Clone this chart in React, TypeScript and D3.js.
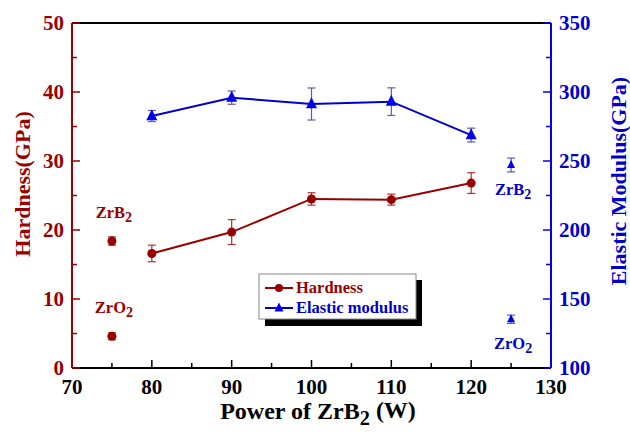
import React from "react";
import * as d3 from "d3";

// Sputtering power of ZrB2 target (W)
const power = [80, 90, 100, 110, 120];
// Film hardness (GPa) with standard deviation
const hardness = [16.6, 19.7, 24.5, 24.4, 26.8];
const hardnessErr = [1.2, 1.8, 0.9, 0.8, 1.5];
// Elastic modulus (GPa) with standard deviation
const modulus = [282.6, 295.9, 291.3, 293.0, 268.8];
const modulusErr = [4.0, 4.8, 11.6, 10.0, 5.0];

// Reference single-phase films
const refHardness = [
  { name: "ZrB2", x: 75, v: 18.4, e: 0.6 },
  { name: "ZrO2", x: 75, v: 4.6, e: 0.5 },
];
const refModulus = [
  { name: "ZrB2", x: 125, v: 247.1, e: 5 },
  { name: "ZrO2", x: 125, v: 135.3, e: 3 },
];

const xTicks = [70, 80, 90, 100, 110, 120, 130];
const hTicks = [0, 10, 20, 30, 40, 50];
const mTicks = [100, 150, 200, 250, 300, 350];

const RED = "#990000";
const BLUE = "#0000CC";
const AXIS_BLUE = "#0000EE";
const FONT = "Liberation Serif";

const W = 630;
const H = 435;
const L = 72;
const R = 551;
const T = 23;
const B = 368;

export default function App() {
  const x = d3.scaleLinear().domain([70, 130]).range([L, R]);
  const yH = d3.scaleLinear().domain([0, 50]).range([B, T]);
  const yM = d3.scaleLinear().domain([100, 350]).range([B, T]);

  const hLine = d3
    .line<number>()
    .x((_, i) => x(power[i]))
    .y((d) => yH(d));
  const mLine = d3
    .line<number>()
    .x((_, i) => x(power[i]))
    .y((d) => yM(d));

  const tri = (cx: number, cy: number, s: number) =>
    `M${cx},${cy - s * 0.62} L${cx + s / 2},${cy + s * 0.38} L${cx - s / 2},${cy + s * 0.38} Z`;

  const errBar = (cx: number, y1: number, y2: number, color: string, key: string) => (
    <g key={key} stroke={color} strokeWidth={1.2} opacity={0.8}>
      <line x1={cx} x2={cx} y1={y1} y2={y2} />
      <line x1={cx - 4} x2={cx + 4} y1={y1} y2={y1} />
      <line x1={cx - 4} x2={cx + 4} y1={y2} y2={y2} />
    </g>
  );

  const xMinor = d3.range(75, 130, 10);
  const hMinor = d3.range(5, 50, 10);
  const mMinor = d3.range(125, 350, 50);

  const sub = (base: string, digit: string) => (
    <>
      {base}
      <tspan dy="0.3em" fontSize="0.85em">
        {digit}
      </tspan>
    </>
  );

  return (
    <svg
      width={W}
      height={H}
      style={{ position: "absolute", left: 0, top: 0, background: "#fff", fontFamily: FONT, fontWeight: "bold" }}
    >
      {/* top frame */}
      <line x1={L} x2={R} y1={T} y2={T} stroke="#000" strokeWidth={2} />

      {/* bottom axis */}
      <line x1={L} x2={R} y1={B} y2={B} stroke="#000" strokeWidth={2} />
      {xTicks.map((t) => (
        <g key={`xt${t}`}>
          <line x1={x(t)} x2={x(t)} y1={B} y2={B - 8} stroke="#000" strokeWidth={1.5} />
          <text x={x(t)} y={394} textAnchor="middle" fontSize={21} fill="#000">
            {t}
          </text>
        </g>
      ))}
      {xMinor.map((t) => (
        <line key={`xm${t}`} x1={x(t)} x2={x(t)} y1={B} y2={B - 5} stroke="#000" strokeWidth={1.5} />
      ))}
      <text x={318} y={419} textAnchor="middle" fontSize={24} fill="#000">
        Power of {sub("ZrB", "2")}
        <tspan dy="-0.3em"> (W)</tspan>
      </text>

      {/* left axis: hardness */}
      <line x1={L} x2={L} y1={T} y2={B} stroke={RED} strokeWidth={2} />
      {hTicks.map((t) => (
        <g key={`ht${t}`}>
          <line x1={L} x2={L + 8} y1={yH(t)} y2={yH(t)} stroke={RED} strokeWidth={1.5} />
          <text x={64} y={yH(t)} dy="0.35em" textAnchor="end" fontSize={21} fill={RED}>
            {t}
          </text>
        </g>
      ))}
      {hMinor.map((t) => (
        <line key={`hm${t}`} x1={L} x2={L + 5} y1={yH(t)} y2={yH(t)} stroke={RED} strokeWidth={1.5} />
      ))}
      <text transform="translate(30,184) rotate(-90)" textAnchor="middle" fontSize={22} fill={RED}>
        Hardness(GPa)
      </text>

      {/* right axis: elastic modulus */}
      <line x1={R} x2={R} y1={T} y2={B} stroke={AXIS_BLUE} strokeWidth={2} />
      {mTicks.map((t) => (
        <g key={`mt${t}`}>
          <line x1={R} x2={R - 8} y1={yM(t)} y2={yM(t)} stroke={AXIS_BLUE} strokeWidth={1.5} />
          <text x={559} y={yM(t)} dy="0.35em" textAnchor="start" fontSize={21} fill={BLUE}>
            {t}
          </text>
        </g>
      ))}
      {mMinor.map((t) => (
        <line key={`mm${t}`} x1={R} x2={R - 5} y1={yM(t)} y2={yM(t)} stroke={AXIS_BLUE} strokeWidth={1.5} />
      ))}
      <text transform="translate(626,181) rotate(-90)" textAnchor="middle" fontSize={22} fill={BLUE}>
        Elastic Modulus(GPa)
      </text>

      {/* hardness series */}
      {power.map((p, i) =>
        errBar(x(p), yH(hardness[i] + hardnessErr[i]), yH(hardness[i] - hardnessErr[i]), RED, `he${i}`)
      )}
      <path d={hLine(hardness) ?? ""} fill="none" stroke={RED} strokeWidth={2} />
      {power.map((p, i) => (
        <circle key={`hc${i}`} cx={x(p)} cy={yH(hardness[i])} r={4.5} fill={RED} />
      ))}

      {/* modulus series */}
      {power.map((p, i) =>
        errBar(x(p), yM(modulus[i] + modulusErr[i]), yM(modulus[i] - modulusErr[i]), "#333399", `me${i}`)
      )}
      <path d={mLine(modulus) ?? ""} fill="none" stroke={BLUE} strokeWidth={2} />
      {power.map((p, i) => (
        <path key={`mp${i}`} d={tri(x(p), yM(modulus[i]), 11)} fill={AXIS_BLUE} />
      ))}

      {/* reference films */}
      {refHardness.map((d, i) => (
        <g key={`rh${i}`}>
          {errBar(x(d.x), yH(d.v + d.e), yH(d.v - d.e), RED, `rhe${i}`)}
          <circle cx={x(d.x)} cy={yH(d.v)} r={4.5} fill={RED} />
          <text x={x(d.x) + 2} y={yH(d.v) - 23} textAnchor="middle" fontSize={16.5} fill={RED}>
            {sub(d.name.slice(0, 3), d.name.slice(3))}
          </text>
        </g>
      ))}
      {refModulus.map((d, i) => (
        <g key={`rm${i}`}>
          {errBar(x(d.x), yM(d.v + d.e), yM(d.v - d.e), "#333399", `rme${i}`)}
          <path d={tri(x(d.x), yM(d.v), 8)} fill={AXIS_BLUE} />
          <text x={x(d.x) + 2} y={yM(d.v) + 30} textAnchor="middle" fontSize={16.5} fill={BLUE}>
            {sub(d.name.slice(0, 3), d.name.slice(3))}
          </text>
        </g>
      ))}

      {/* legend */}
      <g>
        <rect x={265} y={280} width={157} height={46} fill="#000" />
        <rect x={259} y={274} width={157} height={45} fill="#fff" stroke="#888" strokeWidth={1} />
        <line x1={265} x2={293} y1={288} y2={288} stroke={RED} strokeWidth={2} />
        <circle cx={279} cy={288} r={4} fill={RED} />
        <text x={296} y={293} fontSize={16.5} fill={RED}>
          Hardness
        </text>
        <line x1={265} x2={293} y1={308} y2={308} stroke={BLUE} strokeWidth={2} />
        <path d={tri(279, 308, 9)} fill={AXIS_BLUE} />
        <text x={296} y={313} fontSize={16.5} fill={BLUE}>
          Elastic modulus
        </text>
      </g>
    </svg>
  );
}
